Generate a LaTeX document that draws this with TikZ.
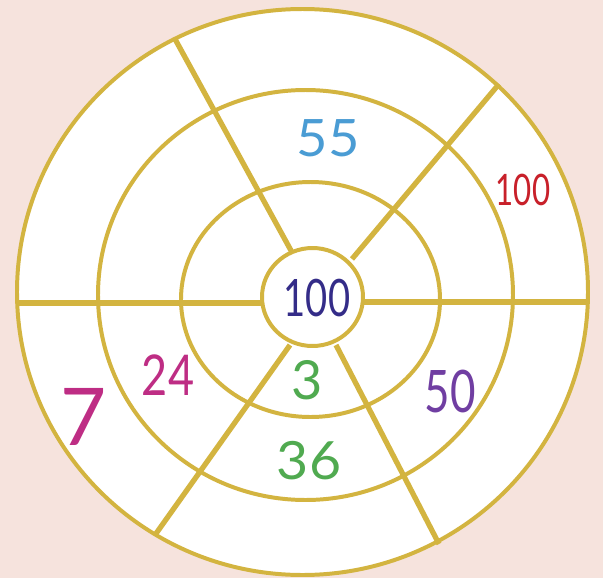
\documentclass[tikz,border=0pt]{standalone}
\usepackage{fontspec}
\setmainfont{Lato}
\usepackage{tikz}
\definecolor{blushpink}{RGB}{246,227,221}
\definecolor{ringgold}{RGB}{211,180,64}
\definecolor{skyblue}{RGB}{74,156,212}
\definecolor{brickred}{RGB}{200,32,42}
\definecolor{inkblue}{RGB}{52,44,136}
\definecolor{berry}{RGB}{190,45,132}
\definecolor{leafgreen}{RGB}{80,170,80}
\definecolor{plum}{RGB}{112,62,162}
\newcommand{\hand}[3]{\fontsize{#1}{#1}\selectfont\scalebox{#2}[1]{#3}}

\begin{document}
\begin{tikzpicture}[x=0.03cm,y=-0.03cm,
    ring/.style={draw=ringgold,line width=3.4pt},
    spoke/.style={ringgold,line width=4.5pt},
    num/.style={inner sep=0pt}]
    % Background
    \fill[blushpink] (0,0) rectangle (603,578);
    \useasboundingbox (0,0) rectangle (603,578);

    % Board
    \fill[white] (302.5,292) ellipse [x radius=285.5, y radius=283];

    % Spokes
    \draw[spoke] (175,39) -- (294,256);
    \draw[spoke] (499,84) -- (352,259);
    \draw[spoke] (16,303) -- (262,303);
    \draw[spoke] (363,302) -- (589,302);
    \draw[spoke] (290,345) -- (155,535);
    \draw[spoke] (336,345) -- (439,544);

    % Rings
    \draw[ring] (302.5,292) ellipse [x radius=285.5, y radius=283];
    \draw[ring] (305.5,295) ellipse [x radius=207.5, y radius=205];
    \draw[ring] (310.5,299.5) ellipse [x radius=129.5, y radius=117.5];
    \draw[ring,fill=white] (312.5,297) ellipse [x radius=50.5, y radius=49];

    % Numbers
    \node[num,text=skyblue] (top) at (328,138) {\hand{44}{1.05}{55}};
    \node[num,text=brickred] (corner) at (523,190) {\hand{37}{0.72}{100}};
    \node[num,text=inkblue] (middle) at (317,298) {\hand{44}{0.74}{100}};
    \node[num,text=berry] (left) at (168,375) {\hand{48}{0.8}{24}};
    \node[num,text=berry] (edge) at (84,417) {\hand{68}{1}{7}};
    \node[num,text=leafgreen] (inner) at (307,380) {\hand{46}{1}{3}};
    \node[num,text=leafgreen] (lower) at (309,461) {\hand{45}{1.05}{36}};
    \node[num,text=plum] (right) at (450,392) {\hand{50}{0.75}{50}};
\end{tikzpicture}
\end{document}
